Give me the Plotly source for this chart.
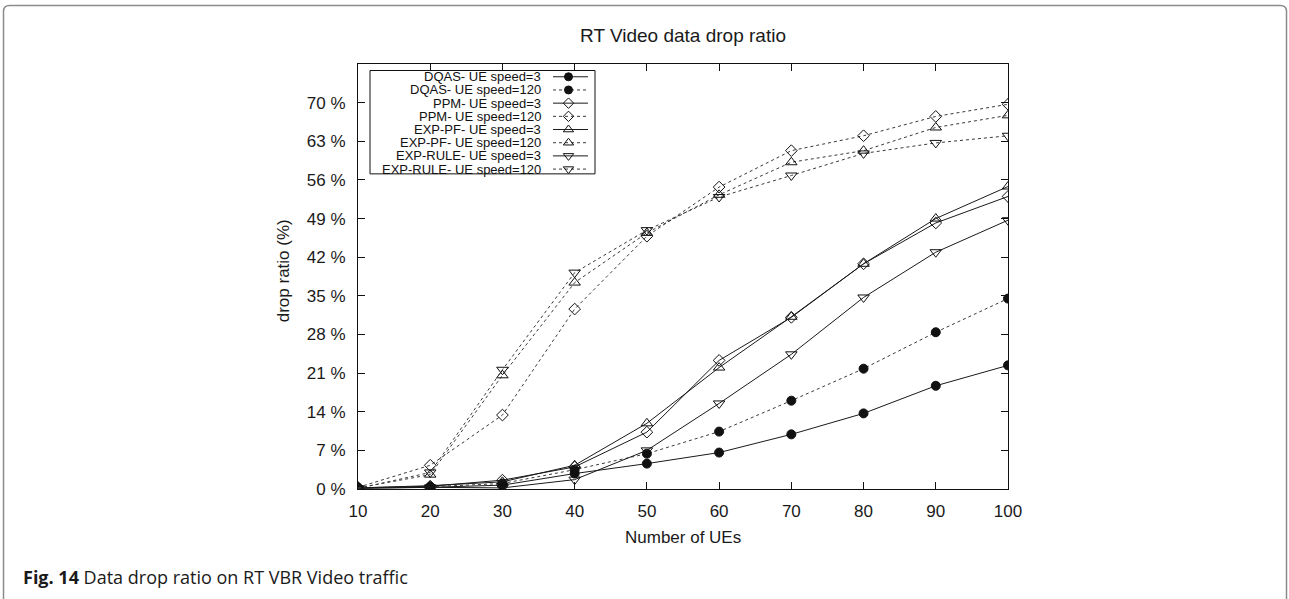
import plotly.graph_objects as go

# ---------------- data ----------------
ues = [10, 20, 30, 40, 50, 60, 70, 80, 90, 100]

dqas_3 = [0.2, 0.3, 0.7, 2.8, 4.6, 6.6, 9.9, 13.7, 18.7, 22.4]
dqas_120 = [0.2, 0.4, 1.0, 3.5, 6.4, 10.4, 16.0, 21.8, 28.4, 34.5]
ppm_3 = [0.2, 0.5, 1.6, 4.0, 10.3, 23.3, 31.1, 40.8, 48.2, 53.0]
ppm_120 = [0.3, 4.3, 13.4, 32.6, 45.8, 54.7, 61.3, 64.0, 67.5, 69.7]
exppf_3 = [0.2, 0.6, 1.3, 4.3, 11.9, 22.0, 31.2, 40.8, 49.0, 54.8]
exppf_120 = [0.2, 2.6, 20.6, 37.4, 46.4, 53.3, 59.2, 61.3, 65.5, 67.7]
exprule_3 = [0.1, 0.3, 0.2, 1.7, 7.0, 15.5, 24.4, 34.7, 42.9, 48.7]
exprule_120 = [0.1, 3.0, 21.6, 39.2, 46.9, 52.9, 56.8, 60.8, 62.7, 64.0]

series_names = [
    "DQAS- UE speed=3", "DQAS- UE speed=120",
    "PPM- UE speed=3", "PPM- UE speed=120",
    "EXP-PF- UE speed=3", "EXP-PF- UE speed=120",
    "EXP-RULE- UE speed=3", "EXP-RULE- UE speed=120",
]
series_values = [dqas_3, dqas_120, ppm_3, ppm_120, exppf_3, exppf_120, exprule_3, exprule_120]

y_tickvals = [0, 7, 14, 21, 28, 35, 42, 49, 56, 63, 70]
y_ticktext = ["0 %", "7 %", "14 %", "21 %", "28 %", "35 %", "42 %", "49 %", "56 %", "63 %", "70 %"]
x_tickvals = [10, 20, 30, 40, 50, 60, 70, 80, 90, 100]

# ---------------- styles ----------------
symbols = ["circle", "circle", "diamond-open", "diamond-open",
           "triangle-up-open", "triangle-up-open", "triangle-down-open", "triangle-down-open"]
sizes = [9, 9, 9, 9, 10, 10, 10, 10]
dashes = ["solid", "3px,3px"] * 4
line_colors = ["#1a1a1a", "#3a3a3a"] * 4

W, H = 1289, 599
L, R, T, B = 358, 1008, 63.5, 489  # plot area in pixels
PW, PH = R - L, B - T


def px(xp):
    return (xp - L) / PW


def py(yp):
    return (B - yp) / PH


FONT = "Liberation Sans"

fig = go.Figure()

for name, vals, sym, sz, dsh, lc in zip(series_names, series_values, symbols, sizes, dashes, line_colors):
    fig.add_trace(go.Scatter(
        x=ues, y=vals, mode="lines+markers", name=name,
        line=dict(color=lc, width=1, dash=dsh),
        marker=dict(symbol=sym, size=sz, color="#111111",
                    line=dict(color="#111111", width=1)),
        showlegend=False, xaxis="x", yaxis="y",
    ))

# ---------------- custom gnuplot-style legend (pixel axes) ----------------
row0, row_step = 76.3, 13.2
for i, (name, sym, sz, dsh, lc) in enumerate(zip(series_names, symbols, sizes, dashes, line_colors)):
    yy = row0 + i * row_step
    fig.add_trace(go.Scatter(
        x=[553, 588], y=[yy, yy], mode="lines",
        line=dict(color=lc, width=1, dash=dsh),
        showlegend=False, hoverinfo="skip", xaxis="x2", yaxis="y2",
    ))
    fig.add_trace(go.Scatter(
        x=[568.5], y=[yy], mode="markers",
        marker=dict(symbol=sym, size=sz - 1, color="#111111",
                    line=dict(color="#111111", width=1)),
        showlegend=False, hoverinfo="skip", xaxis="x2", yaxis="y2",
    ))
    fig.add_annotation(
        x=543, y=yy, xref="x2", yref="y2", text=name, showarrow=False,
        xanchor="right", yanchor="middle",
        font=dict(family=FONT, size=13, color="#111111"),
    )

shapes = [
    # legend box
    dict(type="rect", xref="paper", yref="paper",
         x0=px(370), x1=px(595), y0=py(70), y1=py(173.5),
         line=dict(color="#111111", width=1), fillcolor="rgba(0,0,0,0)"),
]

# outer rounded frame
r = 6
x0f, x1f, y0f, y1f = 3.5, 1286.5, 5, 605
path = (
    f"M {px(x0f + r)},{py(y0f)} L {px(x1f - r)},{py(y0f)} "
    f"Q {px(x1f)},{py(y0f)} {px(x1f)},{py(y0f + r)} "
    f"L {px(x1f)},{py(y1f - r)} Q {px(x1f)},{py(y1f)} {px(x1f - r)},{py(y1f)} "
    f"L {px(x0f + r)},{py(y1f)} Q {px(x0f)},{py(y1f)} {px(x0f)},{py(y1f - r)} "
    f"L {px(x0f)},{py(y0f + r)} Q {px(x0f)},{py(y0f)} {px(x0f + r)},{py(y0f)} Z"
)
shapes.append(dict(type="path", xref="paper", yref="paper", path=path,
                   line=dict(color="#8c8c8c", width=1.5), fillcolor="rgba(0,0,0,0)",
                   layer="below"))

annotations_extra = [
    dict(x=px(683), y=py(35), xref="paper", yref="paper", text="RT Video data drop ratio",
         showarrow=False, xanchor="center", yanchor="middle",
         font=dict(family=FONT, size=19, color="#1a1a1a")),
    dict(x=px(683), y=py(538), xref="paper", yref="paper", text="Number of UEs",
         showarrow=False, xanchor="center", yanchor="middle",
         font=dict(family=FONT, size=17, color="#1a1a1a")),
    dict(x=px(283), y=py(271), xref="paper", yref="paper", text="drop ratio (%)",
         showarrow=False, xanchor="center", yanchor="middle", textangle=-90,
         font=dict(family=FONT, size=17, color="#1a1a1a")),
    dict(x=px(21), y=py(577), xref="paper", yref="paper",
         text="<b>Fig. 14</b> Data drop ratio on RT VBR Video traffic",
         showarrow=False, xanchor="left", yanchor="middle",
         font=dict(family="Open Sans", size=18, color="#1a1a1a")),
]
for a in annotations_extra:
    fig.add_annotation(**a)

axis_common = dict(
    showline=True, linecolor="#111111", linewidth=1.2, mirror="ticks",
    ticks="inside", ticklen=7, tickwidth=1, tickcolor="#111111",
    showgrid=False, zeroline=False,
    tickfont=dict(family=FONT, size=17, color="#1a1a1a"),
)

fig.update_layout(
    width=W, height=H,
    margin=dict(l=L, r=W - R, t=T, b=H - B),
    paper_bgcolor="white", plot_bgcolor="white",
    font=dict(family=FONT),
    xaxis=dict(range=[10, 100], tickvals=x_tickvals, ticklabelstandoff=6, **axis_common),
    yaxis=dict(range=[0, 77], tickvals=y_tickvals, ticktext=y_ticktext, ticklabelstandoff=8, **axis_common),
    xaxis2=dict(range=[L, R], overlaying="x", visible=False, fixedrange=True),
    yaxis2=dict(range=[B, T], overlaying="y", visible=False, fixedrange=True),
    shapes=shapes,
    showlegend=False,
)

fig.write_html("out.html")
